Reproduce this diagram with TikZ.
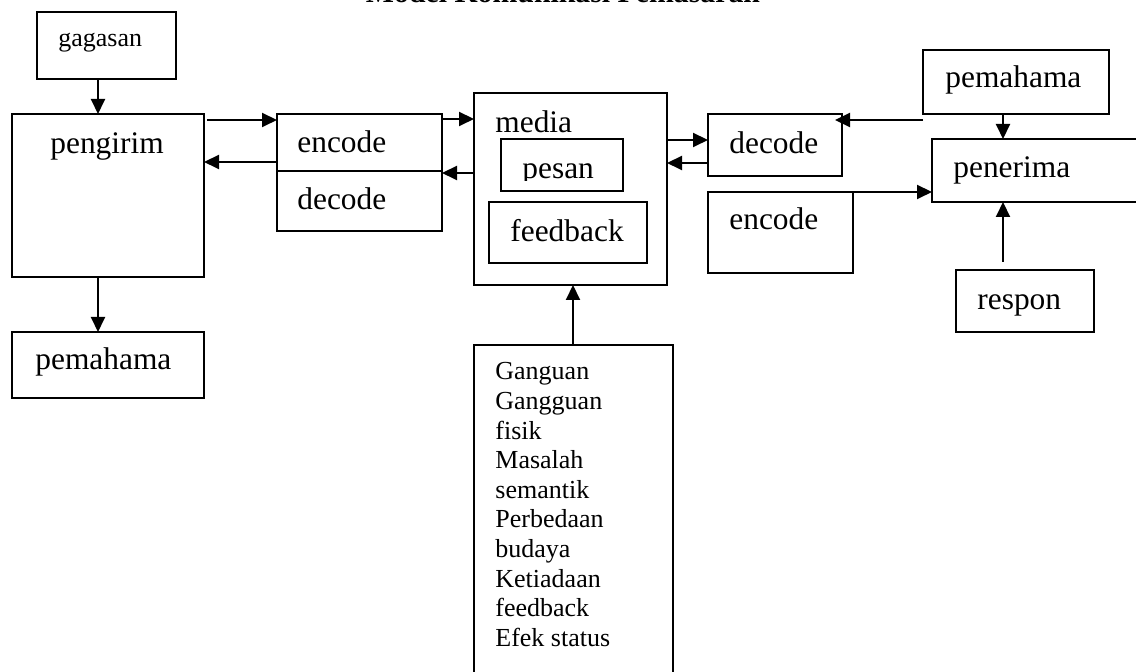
\documentclass[tikz,border=0pt]{standalone}
\usepackage{fontspec}
\setmainfont{Liberation Serif}
\usetikzlibrary{arrows.meta,calc,fit}
\tikzset{
  box/.style={draw, line width=1pt, inner sep=0pt, outer sep=0pt, rectangle},
  arr/.style={line width=1pt, -{Triangle[length=7.5pt,width=7pt]}},
  big/.style={inner sep=0pt, anchor=base west, font=\fontsize{15.7}{18}\selectfont},
  small/.style={inner sep=0pt, anchor=base west, font=\fontsize{13}{15}\selectfont},
}
\begin{document}
\begin{tikzpicture}[x=0.5pt,y=-0.5pt]
\useasboundingbox (0,0) rectangle (1136,672);
\clip (0,0) rectangle (1136,672);

% title (cut off at the top edge)
\node[inner sep=0pt, anchor=base, font=\bfseries\fontsize{14.9}{17}\selectfont] (title) at (563,3) {Model Komunikasi Pemasaran};

% boxes
\node[box, fit={(37,12)(176,79)}] (gag) {};
\node[box, fit={(12,114)(204,277)}] (peng) {};
\node[box, fit={(12,332)(204,398)}] (pemL) {};
\node[box, fit={(277,114)(442,231)}] (ed) {};
\draw[line width=1pt] ($(ed.north west)+(0,57)$) -- ($(ed.north east)+(0,57)$);
\node[box, fit={(474,93)(667,285)}] (media) {};
\node[box, fit={(501,139)(623,191)}] (pesan) {};
\node[box, fit={(489,202)(647,263)}] (fb) {};
\node[box, fit={(474,345)(673,720)}] (noise) {};
\node[box, fit={(708,114)(842,176)}] (dec) {};
\node[box, fit={(708,192)(853,273)}] (encR) {};
\node[box, fit={(923,50)(1109,114)}] (pemR) {};
\node[box, fit={(932,139)(1150,202)}] (pen) {};
\node[box, fit={(956,270)(1094,332)}] (resp) {};

% texts
\node[small] (tgag) at (58,47) {gagasan};
\node[big] (tpeng) at (50,154) {pengirim};
\node[big] (tpemL) at (35,370) {pemahama};
\node[big] (tenc) at (297,153) {encode};
\node[big] (tdec) at (297,210) {decode};
\node[big] (tmedia) at (495,133) {media};
\begin{scope}
  \clip (501,139) rectangle (623,181);
  \node[big] (tpesan) at (522,179) {pesan};
\end{scope}
\node[big] (tfb) at (510,242) {feedback};
\foreach \t [count=\i from 0] in {Ganguan,Gangguan,fisik,Masalah,semantik,Perbedaan,budaya,Ketiadaan,feedback,Efek status}
  \node[small] (n\i) at (495,380+29.6*\i) {\t};
\node[big] (tdecR) at (729,154) {decode};
\node[big] (tencR) at (729,230) {encode};
\node[big] (tpemR) at (945,88) {pemahama};
\node[big] (tpen) at (953,178) {penerima};
\node[big] (tresp) at (977,310) {respon};

% connectors
\draw[arr] ($(gag.south west)+(61,0)$) -- ($(peng.north west)+(86,0)$);
\draw[arr] ($(peng.south west)+(86,0)$) -- ($(pemL.north west)+(86,0)$);
\draw[arr] ($(peng.north east)+(3,6)$) -- ($(ed.north west)+(0,6)$);
\draw[arr] ($(ed.north west)+(0,48)$) -- ($(peng.north east)+(0,48)$);
\draw[arr] ($(ed.north east)+(0,5)$) -- ($(media.north west)+(0,26)$);
\draw[arr] ($(media.north west)+(0,80)$) -- ($(ed.north east)+(0,59)$);
\draw[arr] ($(noise.north west)+(99,0)$) -- ($(media.south west)+(99,0)$);
\draw[arr] ($(media.north east)+(0,47)$) -- ($(dec.north west)+(0,26)$);
\draw[arr] ($(dec.north west)+(0,49)$) -- ($(media.north east)+(0,70)$);
\draw[arr] ($(pemR.south west)+(0,6)$) -- ($(dec.north east)+(-7,6)$);
\draw[arr] ($(pemR.south west)+(80,0)$) -- ($(pen.north west)+(71,0)$);
\draw[arr] (encR.north east) -- ($(pen.south west)+(0,-10)$);
\draw[arr] ($(resp.north west)+(47,-8)$) -- ($(pen.south west)+(71,0)$);
\end{tikzpicture}
\end{document}
